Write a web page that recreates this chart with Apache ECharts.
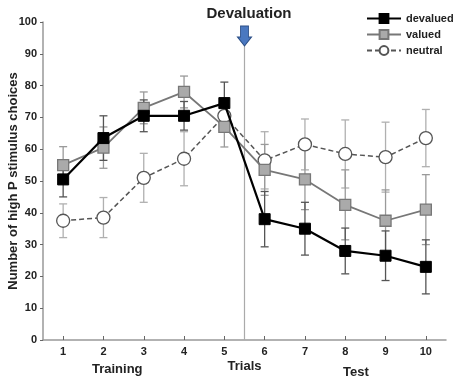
<!DOCTYPE html>
<html><head><meta charset="utf-8">
<script src="https://cdn.jsdelivr.net/npm/echarts@6/dist/echarts.min.js"></script>
<style>html,body{margin:0;padding:0;background:#fff}#c{width:454px;height:381px}</style>
</head><body><div id="c"></div>
<script>
const trials = [1,2,3,4,5,6,7,8,9,10];
const devalued = [50.5,63.5,70.5,70.5,74.5,38,35,28,26.5,23];
const devaluedErr = [5.5,7,5,4.5,6.6,8.7,8.3,7.2,7.8,8.5];
const valued = [55,60.5,73,78,67,53.5,50.5,42.5,37.5,41];
const valuedErr = [5.8,6.5,5,5,6.3,8,9.5,11,9.7,11];
const neutral = [37.5,38.5,51,57,70.5,56.5,61.5,58.5,57.5,63.5];
const neutralErr = [5.3,6.3,7.7,8.5,4.5,9,8,10.7,11,9];
const yTicks = [0,10,20,30,40,50,60,70,80,90,100];
const devaluationX = 5.5;

const font = '"Liberation Sans", Arial, sans-serif';
const chart = echarts.init(document.getElementById('c'), null, {renderer:'canvas'});

function errSeries(name, vals, errs, color, z) {
  return {
    type: 'custom', name: name + ' err', z: z, silent: true,
    data: trials.map((t,i)=>[t, vals[i], errs[i]]),
    renderItem: function(params, api) {
      const x = api.value(0), y = api.value(1), e = api.value(2);
      const top = api.coord([x, y + e]);
      const bot = api.coord([x, y - e]);
      const hw = 4;
      const st = {stroke: color, lineWidth: 1.3};
      return {type:'group', children:[
        {type:'line', shape:{x1:top[0],y1:top[1],x2:bot[0],y2:bot[1]}, style:st},
        {type:'line', shape:{x1:top[0]-hw,y1:top[1],x2:top[0]+hw,y2:top[1]}, style:st},
        {type:'line', shape:{x1:bot[0]-hw,y1:bot[1],x2:bot[0]+hw,y2:bot[1]}, style:st}
      ]};
    }
  };
}

const arrowPath = 'path://M3,0 L11,0 L11,11 L14,11 L7,20 L0,11 L3,11 Z';

chart.setOption({
  animation: false,
  textStyle: {fontFamily: font},
  title: {
    text: 'Devaluation', left: 244, top: 1, textAlign: 'center',
    textStyle: {fontFamily: font, fontWeight: 'bold', fontSize: 15, color: '#222'}
  },
  legend: {
    data: ['devalued','valued','neutral'],
    orient: 'vertical', left: 361, top: 8, itemWidth: 34, itemHeight: 11, itemGap: 5,
    textStyle: {fontFamily: font, fontWeight: 'bold', fontSize: 11, color: '#222'}
  },
  grid: {left: 43, right: 8, top: 22, bottom: 41, containLabel: false, outerBoundsMode: 'none'},
  xAxis: {
    type: 'value', min: 0.5, max: 10.5,
    name: 'Trials', nameLocation: 'middle', nameGap: 20, nameMoveOverlap: false,
    nameTextStyle: {fontFamily: font, fontWeight: 'bold', fontSize: 13, color: '#222'},
    axisLine: {lineStyle: {color: '#999', width: 1.5}},
    axisTick: {show: true, inside: true, length: 4, customValues: trials, lineStyle: {color: '#666'}},
    axisLabel: {customValues: trials, fontFamily: font, fontWeight: 'bold', fontSize: 11, color: '#222', margin: 6},
    splitLine: {show: false}
  },
  yAxis: {
    type: 'value', min: 0, max: 100, interval: 10,
    name: 'Number of high P stimulus choices', nameLocation: 'middle', nameGap: 23, nameMoveOverlap: false,
    nameTextStyle: {fontFamily: font, fontWeight: 'bold', fontSize: 13, color: '#222'},
    axisLine: {show: true, lineStyle: {color: '#999', width: 1.5}},
    axisTick: {show: true, inside: false, length: 3, lineStyle: {color: '#666'}},
    axisLabel: {fontFamily: font, fontWeight: 'bold', fontSize: 11, color: '#222', margin: 6},
    splitLine: {show: false}
  },
  graphic: [
    {type:'text', left: 92, top: 363, style:{text:'Training', font:'bold 13px "Liberation Sans", Arial', fill:'#222'}},
    {type:'text', left: 343, top: 366, style:{text:'Test', font:'bold 13px "Liberation Sans", Arial', fill:'#222'}}
  ],
  series: [
    errSeries('neutral', neutral, neutralErr, '#b0b0b0', 1),
    errSeries('valued', valued, valuedErr, '#9a9a9a', 2),
    errSeries('devalued', devalued, devaluedErr, '#555', 3),
    {
      name: 'neutral', type: 'line', z: 4,
      data: trials.map((t,i)=>[t, neutral[i]]),
      symbol: 'circle', symbolSize: 13,
      lineStyle: {color: '#555', width: 1.5, type: [5,3]},
      itemStyle: {color: '#fff', borderColor: '#555', borderWidth: 1.3},
      markLine: {
        silent: true, symbol: 'none', label: {show: false},
        lineStyle: {color: '#aaa', width: 1.2, type: 'solid'},
        data: [[{coord: [devaluationX, 0]}, {coord: [devaluationX, 93]}]]
      },
      markPoint: {
        silent: true, symbol: arrowPath, symbolSize: [14, 20], symbolKeepAspect: false,
        itemStyle: {color: '#4a78c0', borderColor: '#2c4f86', borderWidth: 1},
        label: {show: false},
        data: [{coord: [devaluationX, 95.6]}]
      }
    },
    {
      name: 'valued', type: 'line', z: 5,
      data: trials.map((t,i)=>[t, valued[i]]),
      symbol: 'rect', symbolSize: 11,
      lineStyle: {color: '#777', width: 1.8},
      itemStyle: {color: '#aaa', borderColor: '#777', borderWidth: 1.3}
    },
    {
      name: 'devalued', type: 'line', z: 6,
      data: trials.map((t,i)=>[t, devalued[i]]),
      symbol: 'rect', symbolSize: 11,
      lineStyle: {color: '#000', width: 2.2},
      itemStyle: {color: '#000', borderColor: '#000', borderWidth: 1}
    }
  ]
});
</script></body></html>
